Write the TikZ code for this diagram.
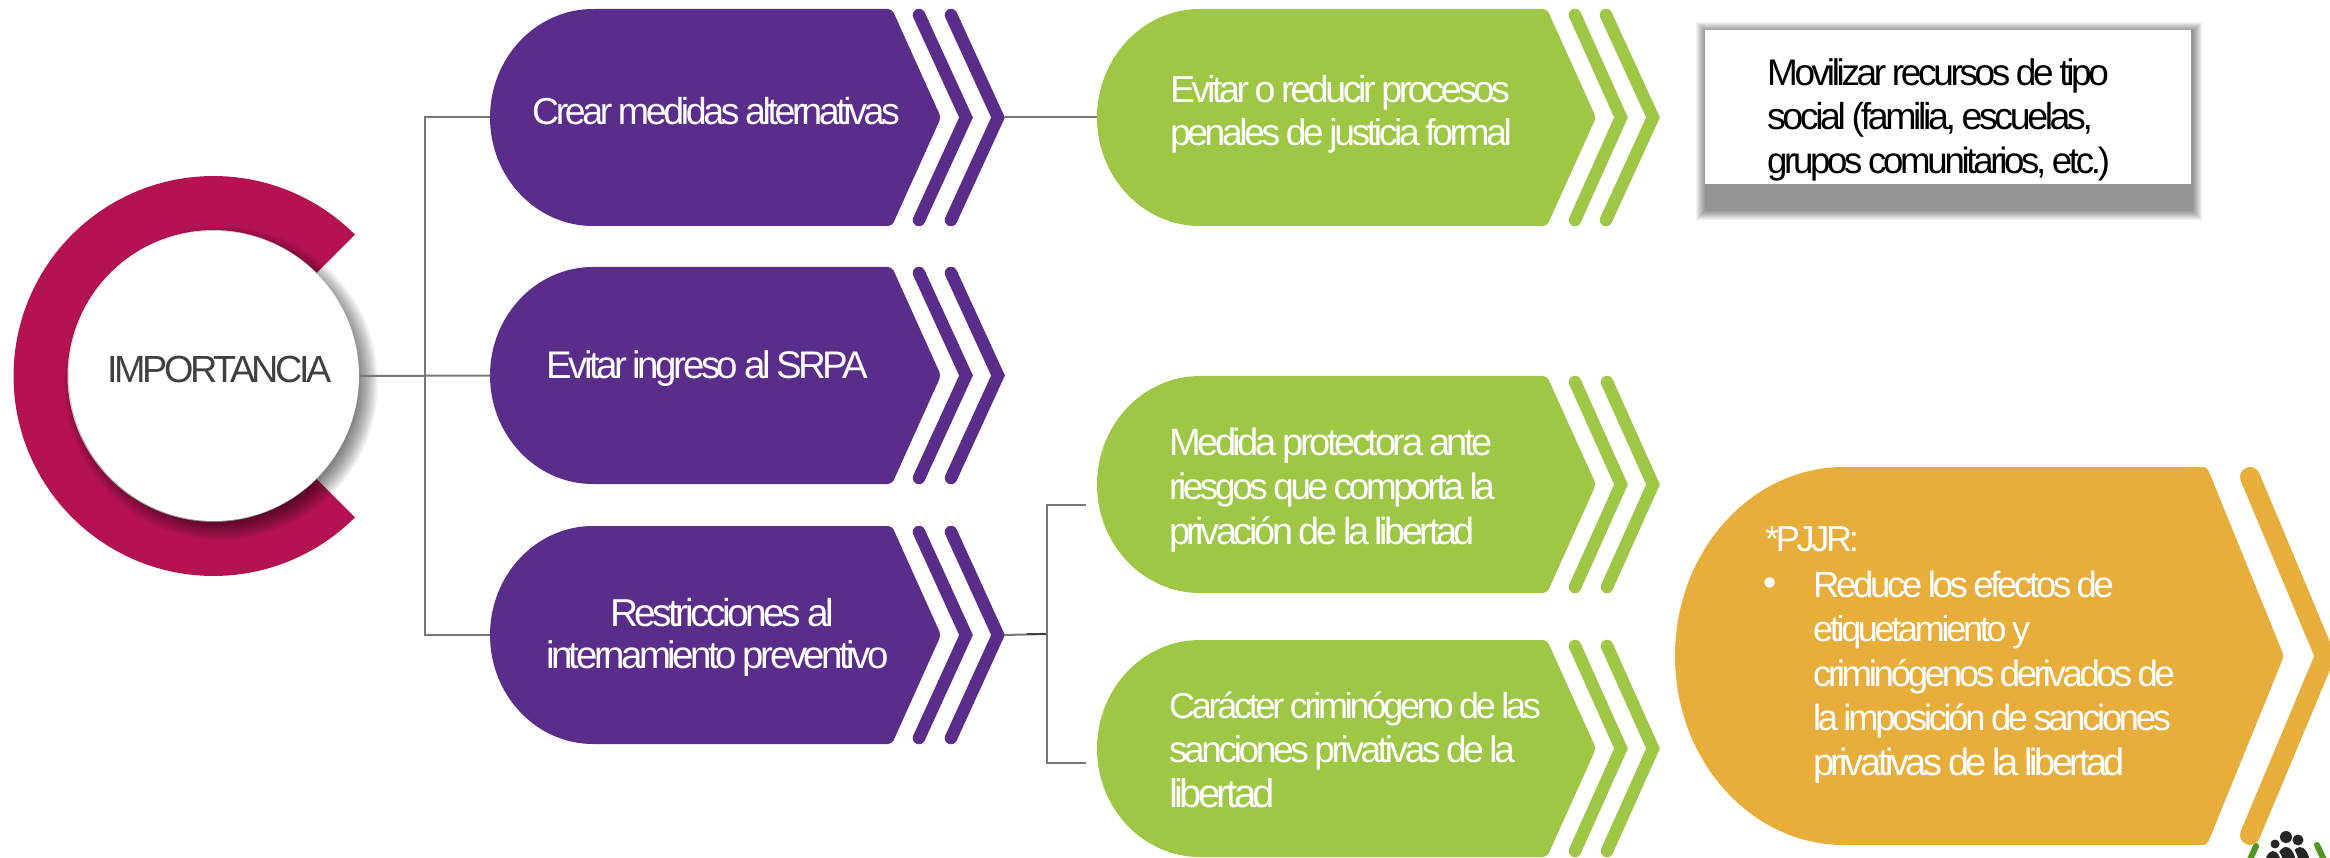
\documentclass[tikz,border=0pt]{standalone}
\usepackage{fontspec}
\usepackage{graphicx}
\setmainfont{Liberation Sans}[LetterSpace=-9,WordSpace=0.8]
\definecolor{crimson}{HTML}{B51254}
\definecolor{violet}{HTML}{5B2D8B}
\definecolor{leaf}{HTML}{9EC746}
\definecolor{amber}{HTML}{E8AE3C}
\definecolor{linkgray}{HTML}{777777}
\definecolor{darkgray}{HTML}{404040}
\newcommand{\fitw}[2]{\resizebox{#1pt}{!}{#2}}
% name, left, top, bottom, rx, corner x, tip x, colour
\newcommand{\tagshape}[8]{%
  \pgfmathsetmacro{\tm}{(#3+#4)/2}%
  \pgfmathsetmacro{\tk}{.5523*(#4-#3)/2}%
  \pgfmathsetmacro{\tq}{.5523*#5}%
  \fill[#8] (#2+#5,#3) [rounded corners=4pt] -- (#6,#3) -- (#7,\tm) -- (#6,#4) [sharp corners] -- (#2+#5,#4)
    .. controls (#2+#5-\tq,#4) and (#2,\tm+\tk) .. (#2,\tm)
    .. controls (#2,\tm-\tk) and (#2+#5-\tq,#3) .. (#2+#5,#3) -- cycle;
}
% colour, top x, tip x, top y, bottom y, width
\newcommand{\chevron}[6]{%
  \pgfmathsetmacro{\tm}{(#4+#5)/2}%
  \draw[#1,line width=#6pt,line cap=round,line join=miter] (#2,#4) -- (#3,\tm) -- (#2,#5);
}
\tikzset{
  anchorbox/.style={inner sep=0,outer sep=0,minimum height=217pt,draw=none},
  link/.style={linkgray,line width=2pt},
  linkdark/.style={darkgray,line width=2pt},
  lbl/.style={anchor=base west,inner sep=0,outer sep=0,align=left,text=white,font=\fontsize{38}{44.5}\selectfont},
}
\begin{document}
\begin{tikzpicture}[x=1pt,y=-1pt]
\path[use as bounding box] (0,0) rectangle (2330,858);
\clip (0,0) rectangle (2330,858);
\fill[white] (0,0) rectangle (2330,858);

% ring
\fill[crimson] plot[domain=45:315,samples=120] ({213.5+200*cos(\x)},{376-200*sin(\x)})
  -- plot[domain=315:45,samples=120] ({213.5+146*cos(\x)},{376-146*sin(\x)}) -- cycle;
% circle shadow
\foreach \i in {0,...,11}{
  \fill[black,opacity=.055] (221,383) circle[radius=136+1.9*\i];
}
\node[circle,fill=white,minimum size=290pt,inner sep=0,outer sep=0] (root) at (214,376) {};
\node[anchor=base west,inner sep=0,outer sep=0,text=darkgray,font=\fontsize{40}{44}\selectfont] (rootlabel) at (107,383) {\fitw{225}{IMPORTANCIA}};

% purple shapes
\tagshape{p1}{490}{9}{226}{103}{892}{941}{violet}
\chevron{violet}{919}{966}{15}{220}{12.5}
\chevron{violet}{951}{998}{15}{220}{12.5}
\node[anchorbox,minimum width=514pt] (p1) at (747,117.5) {};
\tagshape{p2}{490}{267}{484}{103}{892}{941}{violet}
\chevron{violet}{919}{966}{273}{478}{12.5}
\chevron{violet}{951}{998}{273}{478}{12.5}
\node[anchorbox,minimum width=514pt] (p2) at (747,375.5) {};
\tagshape{p3}{490}{526}{744}{103}{892}{941}{violet}
\chevron{violet}{919}{966}{532}{738}{12.5}
\chevron{violet}{951}{998}{532}{738}{12.5}
\node[anchorbox,minimum width=514pt] (p3) at (747,635) {};

% green shapes
\tagshape{g1}{1097}{9}{226}{103}{1547}{1596}{leaf}
\chevron{leaf}{1575}{1621}{15}{220}{12.5}
\chevron{leaf}{1606}{1653}{15}{220}{12.5}
\node[anchorbox,minimum width=562pt] (g1) at (1378,117.5) {};
\tagshape{g2}{1097}{376}{593}{103}{1547}{1596}{leaf}
\chevron{leaf}{1575}{1621}{382}{587}{12.5}
\chevron{leaf}{1607}{1653}{382}{587}{12.5}
\node[anchorbox,minimum width=562pt] (g2) at (1378,484.5) {};
\tagshape{g3}{1097}{640}{857}{103}{1547}{1596}{leaf}
\chevron{leaf}{1575}{1621}{646}{851}{12.5}
\chevron{leaf}{1607}{1653}{646}{851}{12.5}
\node[anchorbox,minimum width=562pt] (g3) at (1378,748.5) {};

% logo (under the amber chevron)
\draw[leaf!70!green!70!black,line width=6pt,line cap=round] (2256,846) -- (2249,862);
\draw[leaf!70!green!70!black,line width=6pt,line cap=round] (2317,845) -- (2325,862);
\fill[black!85] (2286,837) circle[radius=6];
\fill[black!85] (2298,840) circle[radius=5.5];
\fill[black!85] (2275,844) circle[radius=4.5];
\fill[black!85] (2300,866) ellipse[x radius=10,y radius=19];
\fill[white] (2287,868) ellipse[x radius=12,y radius=23];
\fill[black!85] (2286,868) ellipse[x radius=10.5,y radius=21];
\fill[white] (2274,870) ellipse[x radius=10,y radius=21];
\fill[black!85] (2273,870) ellipse[x radius=9,y radius=19];

% amber shape
\tagshape{o1}{1675}{467}{845}{169}{2207}{2284}{amber}
\chevron{amber}{2250}{2325}{477}{835}{20}
\node[anchorbox,minimum width=650pt,minimum height=378pt] (o1) at (2000,656) {};

% white box with shadow
\foreach \i in {0,...,9}{
  \fill[black,opacity=.05] (1696+\i,22+\i) rectangle (2202-\i,220-\i);
}
\node[fill=white,inner sep=0,outer sep=0,minimum width=486pt,minimum height=154pt] (w1) at (1948,107) {};

% connectors
\coordinate (rootj) at (425,376);
\draw[link] (root.east) -- (p2.west);
\draw[link] (p1.west) -| (rootj);
\draw[link] (p3.west) -| (rootj);
\draw[link] (p1.east) -- (g1.west);
\coordinate (pj) at (1047,634);
\coordinate (g2end) at (1086,505);
\coordinate (g3end) at (1086,763);
\draw[link] (pj) -- (p3.east);
\draw[linkdark] (pj) -- (1027,634);
\draw[link] (g2end) -| (pj);
\draw[link] (g3end) -| (pj);

% labels (a node's base is its last line)
\node[lbl] (p1label) at (532,125) {\fitw{368}{Crear medidas alternativas}};
\node[lbl] (p2label) at (546,379) {\fitw{322}{Evitar ingreso al SRPA}};
\node[lbl,font=\fontsize{38}{42}\selectfont] (p3label) at (546,668) {\hspace*{64pt}\fitw{224}{Restricciones al}\\\fitw{343}{internamiento preventivo}};
\node[lbl,font=\fontsize{38}{43}\selectfont] (g1label) at (1170,146) {\fitw{340}{Evitar o reducir procesos}\\\fitw{342}{penales de justicia formal}};
\node[lbl] (g2label) at (1169,544) {\fitw{324}{Medida protectora ante}\\\fitw{326}{riesgos que comporta la}\\\fitw{306}{privación de la libertad}};
\node[lbl] (g3label) at (1169,807) {\fitw{372}{Carácter criminógeno de las}\\\fitw{346}{sanciones privativas de la}\\\fitw{106}{libertad}};
\node[lbl] (o1head) at (1765,551) {\fitw{94}{*PJJR:}};
\node[lbl] (o1bullet) at (1763,595) {•};
\node[lbl] (o1label) at (1813,775) {\fitw{301}{Reduce los efectos de}\\\fitw{217}{etiquetamiento y}\\\fitw{362}{criminógenos derivados de}\\\fitw{358}{la imposición de sanciones}\\\fitw{312}{privativas de la libertad}};
\node[lbl,text=black,font=\fontsize{38}{44}\selectfont] (w1label) at (1767,174) {\fitw{342}{Movilizar recursos de tipo}\\\fitw{326}{social (familia, escuelas,}\\\fitw{343}{grupos comunitarios, etc.)}};
\end{tikzpicture}
\end{document}
